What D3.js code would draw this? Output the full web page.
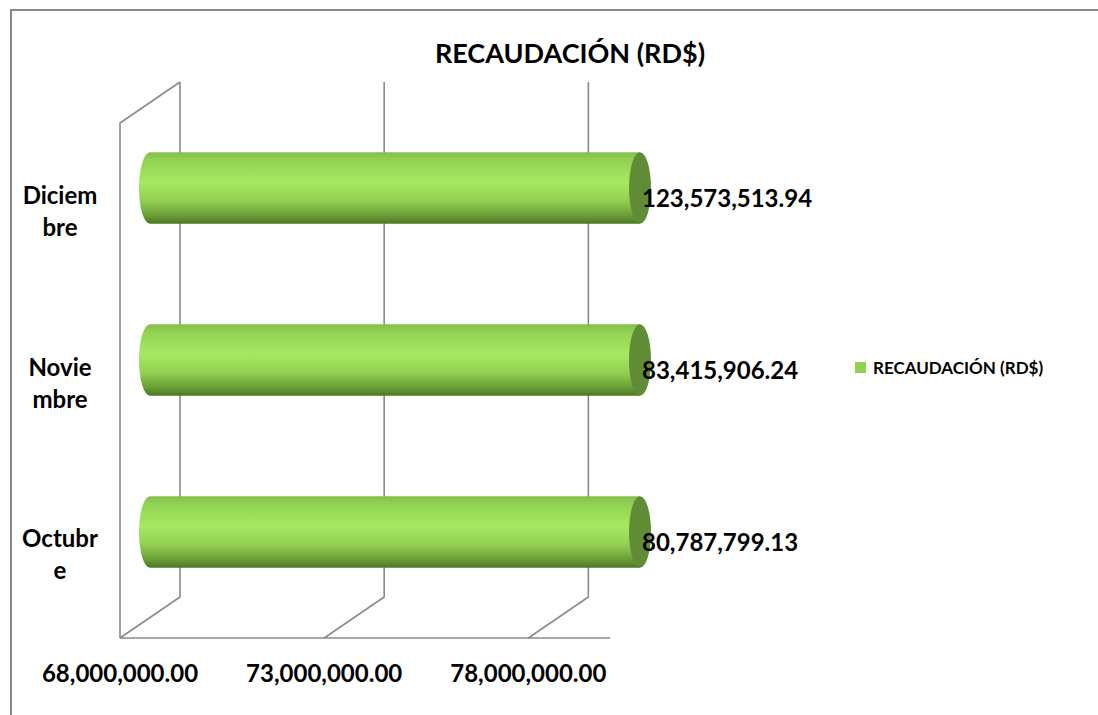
<!doctype html>
<html>
<head>
<meta charset="utf-8">
<script src="https://d3js.org/d3.v7.min.js"></script>
<style>
  body { margin: 0; background: #fff; }
  text { font-family: Lato, "Open Sans", sans-serif; font-weight: bold; fill: #000; }
</style>
</head>
<body>
<div id="chart"></div>
<script>
// data
var categories = ["Diciembre", "Noviembre", "Octubre"];
var categoryLines = [["Diciem", "bre"], ["Novie", "mbre"], ["Octubr", "e"]];
var values = [123573513.94, 83415906.24, 80787799.13];
var valueLabels = ["123,573,513.94", "83,415,906.24", "80,787,799.13"];
var xTicks = [68000000, 73000000, 78000000];
var xDomain = [68000000, 80000000];
var seriesName = "RECAUDACIÓN (RD$)";

var W = 1098, H = 715;
var depth = {dx: 60, dy: -41};   // floor front -> back
var wallTop = 123, floorY = 638;

var svg = d3.select("#chart").append("svg")
    .attr("width", W).attr("height", H);

var defs = svg.append("defs");
var grad = defs.append("linearGradient")
    .attr("id", "cyl").attr("x1", 0).attr("y1", 0).attr("x2", 0).attr("y2", 1);
[["0%", "#84bf4a"], ["12%", "#93d354"], ["42%", "#a6e961"], ["68%", "#92cf51"],
 ["88%", "#6c9f38"], ["100%", "#4b7825"]].forEach(function(s) {
  grad.append("stop").attr("offset", s[0]).attr("stop-color", s[1]);
});

// outer border (runs off the right and bottom edge)
svg.append("path")
    .attr("d", "M11,716 V10 H1099")
    .attr("fill", "none").attr("stroke", "#878787").attr("stroke-width", 2);

var x = d3.scaleLinear().domain(xDomain).range([120, 610]);
var y = d3.scaleBand().domain(categories).range([wallTop, floorY])
    .paddingInner(0.585).paddingOuter(0.29);

var grid = svg.append("g").attr("stroke", "#8a8a8a").attr("stroke-width", 1.6).attr("fill", "none");

// left wall
grid.append("path")
    .attr("d", "M" + x(xDomain[0]) + "," + floorY + " V" + wallTop +
      " L" + (x(xDomain[0]) + depth.dx) + "," + (wallTop + depth.dy));

// back wall gridlines and floor diagonals
xTicks.forEach(function(t) {
  var fx = x(t);
  grid.append("path")
      .attr("d", "M" + fx + "," + floorY + " L" + (fx + depth.dx) + "," + (floorY + depth.dy) +
        " V" + (wallTop + depth.dy));
});

// floor front edge
grid.append("line")
    .attr("x1", x(xDomain[0])).attr("x2", x(xDomain[1]))
    .attr("y1", floorY).attr("y2", floorY);

// x tick labels
svg.append("g").selectAll("text").data(xTicks).enter().append("text")
    .attr("x", function(d) { return x(d); })
    .attr("y", 682)
    .attr("text-anchor", "middle")
    .style("font-size", "24px")
    .text(function(d) { return d3.format(",.2f")(d); });

// category labels
var cat = svg.append("g").selectAll("text").data(categories).enter().append("text")
    .attr("text-anchor", "middle")
    .style("font-size", "24px");
cat.each(function(d, i) {
  var cy = y(d) + y.bandwidth() / 2;
  d3.select(this).selectAll("tspan").data(categoryLines[i]).enter().append("tspan")
      .attr("x", 60)
      .attr("y", function(l, j) { return cy - 5 + j * 32; })
      .text(function(l) { return l; });
});

// cylinders, at half depth
var offX = depth.dx / 2, offY = depth.dy / 2;
var rx = 11;
var bars = svg.append("g").selectAll("g").data(categories).enter().append("g");
bars.each(function(d, i) {
  var g = d3.select(this);
  var top = y(d) + offY, h = y.bandwidth(), ry = h / 2;
  var x0 = x(xDomain[0]) + offX;
  var x1 = x(Math.min(values[i], xDomain[1])) + offX;
  // body: rounded left end, straight to the clipped right end
  g.append("path")
      .attr("d", "M" + x1 + "," + top + " H" + x0 +
        " A" + rx + "," + ry + " 0 0 0 " + x0 + "," + (top + h) +
        " H" + x1 + " Z")
      .attr("fill", "url(#cyl)");
  g.append("ellipse")
      .attr("cx", x1).attr("cy", top + ry)
      .attr("rx", rx).attr("ry", ry)
      .attr("fill", "#608c35");
  g.append("text")
      .attr("x", x1 + 2)
      .attr("y", top + ry + 19)
      .style("font-size", "24px")
      .text(valueLabels[i]);
});

// title
svg.append("text")
    .attr("x", 570).attr("y", 63)
    .attr("text-anchor", "middle")
    .style("font-size", "27px")
    .text(seriesName);

// legend
var leg = svg.append("g").attr("transform", "translate(855,362)");
leg.append("rect").attr("width", 11).attr("height", 11).attr("fill", "#92d050");
leg.append("text").attr("x", 18).attr("y", 11.5)
    .style("font-size", "17px")
    .text(seriesName);
</script>
</body>
</html>
